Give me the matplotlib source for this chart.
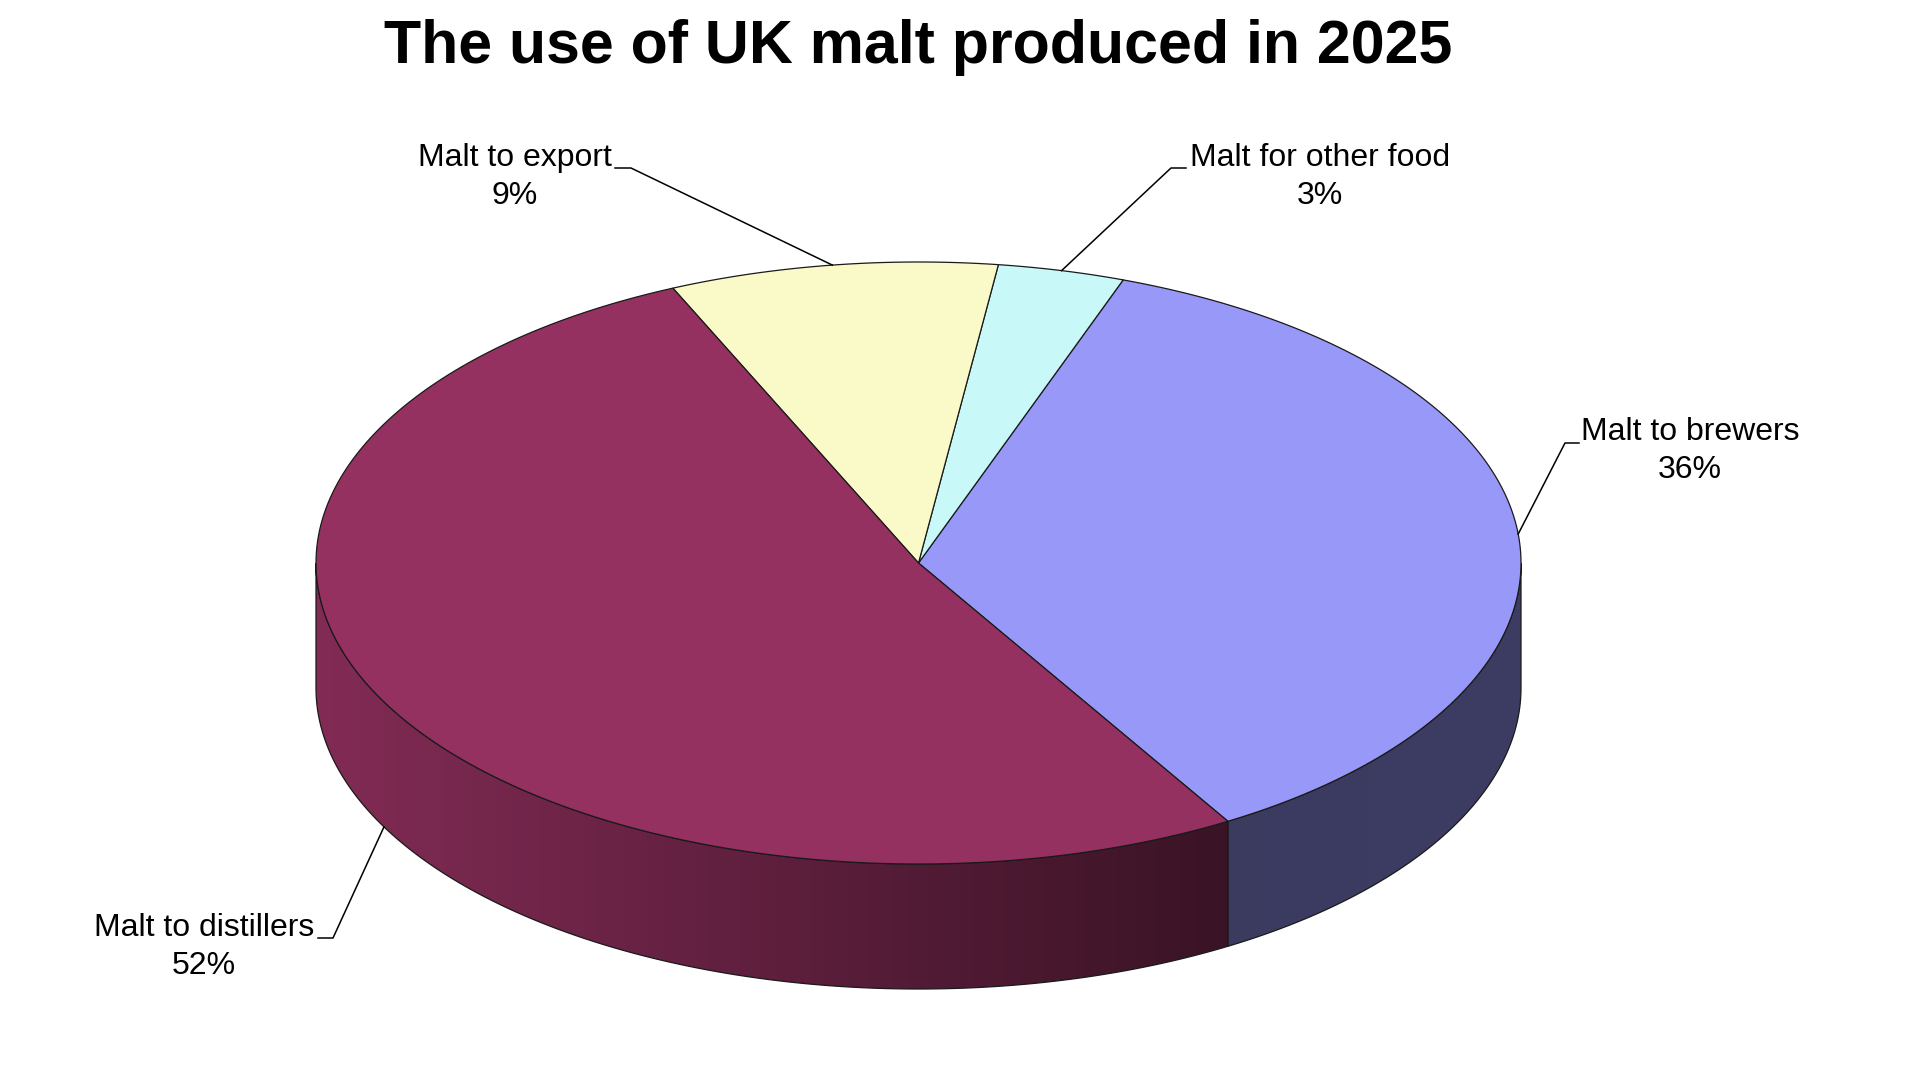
import numpy as np
import matplotlib.pyplot as plt
from matplotlib.patches import Polygon
from matplotlib.colors import to_rgb

plt.rcParams['font.family'] = ['Liberation Sans', 'DejaVu Sans']

title = 'The use of UK malt produced in 2025'
categories = ['Malt to brewers', 'Malt for other food', 'Malt to export', 'Malt to distillers']
shares = [35.9, 3.4, 8.8, 51.9]
top_colors = ['#9898f8', '#c8f8f8', '#fafac8', '#943160']

# where the label text sits and where its leader line bends (pixel layout)
label_pos = [(1690, 451), (1320, 177), (515, 177), (204, 947)]
elbow_pos = [(1565, 443), (1171, 168), (631, 168), (333, 938)]
tick_end = [(1579, 443), (1186, 168), (615, 168), (318, 938)]

# pie geometry in pixels
cx, cy = 918.5, 563
rx, ry = 602.5, 301
depth = 125
start = -59.1

fig = plt.figure(figsize=(19.2, 10.8), dpi=100)
ax = fig.add_axes([0, 0, 1, 1])
ax.set_xlim(0, 1920)
ax.set_ylim(1080, 0)
ax.axis('off')


def arc(a0, a1, dz=0, n=200):
    t = np.radians(np.linspace(a0, a1, n))
    return np.column_stack([cx + rx * np.cos(t), cy - ry * np.sin(t) + dz])


def shade(x):
    # side walls get darker to the right
    return np.interp(x, [cx - rx, 1229, cx + rx], [0.88, 0.39, 0.40])


fracs = np.array(shares) / sum(shares)
edges = start + 360 * np.concatenate([[0], np.cumsum(fracs)])

# side walls (only the front half is visible)
for i in range(len(shares)):
    a0, a1 = edges[i], edges[i + 1]
    for k in (-1, 0, 1):
        lo = max(a0, 180 + 360 * k)
        hi = min(a1, 360 + 360 * k)
        if hi <= lo:
            continue
        top = arc(lo, hi)
        bot = arc(hi, lo, dz=depth)
        verts = np.vstack([top, bot])
        poly = Polygon(verts, closed=True, facecolor='none', edgecolor='none')
        ax.add_patch(poly)
        x0, x1 = verts[:, 0].min(), verts[:, 0].max()
        y0, y1 = verts[:, 1].min(), verts[:, 1].max()
        xs = np.linspace(x0, x1, 400)
        base = np.array(to_rgb(top_colors[i]))
        grad = shade(xs)[:, None] * base[None, :]
        img = ax.imshow(grad[None, :, :], extent=(x0, x1, y1, y0), aspect='auto',
                        interpolation='bilinear', zorder=1)
        img.set_clip_path(poly)
        ax.add_patch(Polygon(verts, closed=True, facecolor='none',
                             edgecolor='#1a1a1a', lw=0.9, zorder=2))

ax.set_xlim(0, 1920)
ax.set_ylim(1080, 0)

# top face
for i in range(len(shares)):
    pts = np.vstack([[cx, cy], arc(edges[i], edges[i + 1])])
    ax.add_patch(Polygon(pts, closed=True, facecolor=top_colors[i],
                         edgecolor='#1a1a1a', lw=0.9, zorder=3))

# labels with leader lines
for i, name in enumerate(categories):
    mid = (edges[i] + edges[i + 1]) / 2
    t = np.radians(mid)
    ax_x = cx + rx * np.cos(t)
    ax_y = cy - ry * np.sin(t)
    if np.sin(t) < 0:
        ax_y += depth
    ex, ey = elbow_pos[i]
    tx, ty = tick_end[i]
    ax.plot([ax_x, ex, tx], [ax_y, ey, ty], color='black', lw=1.1, zorder=4)
    pct = int(round(fracs[i] * 100))
    lx, ly = label_pos[i]
    ax.text(lx, ly, f'{name}\n{pct}%', ha='center', va='center', fontsize=23,
            linespacing=1.35, zorder=5)

ax.text(cx, 48, title, ha='center', va='center', fontsize=43.8,
        fontweight='bold')

fig.savefig('out.png', dpi=100, facecolor='white')
